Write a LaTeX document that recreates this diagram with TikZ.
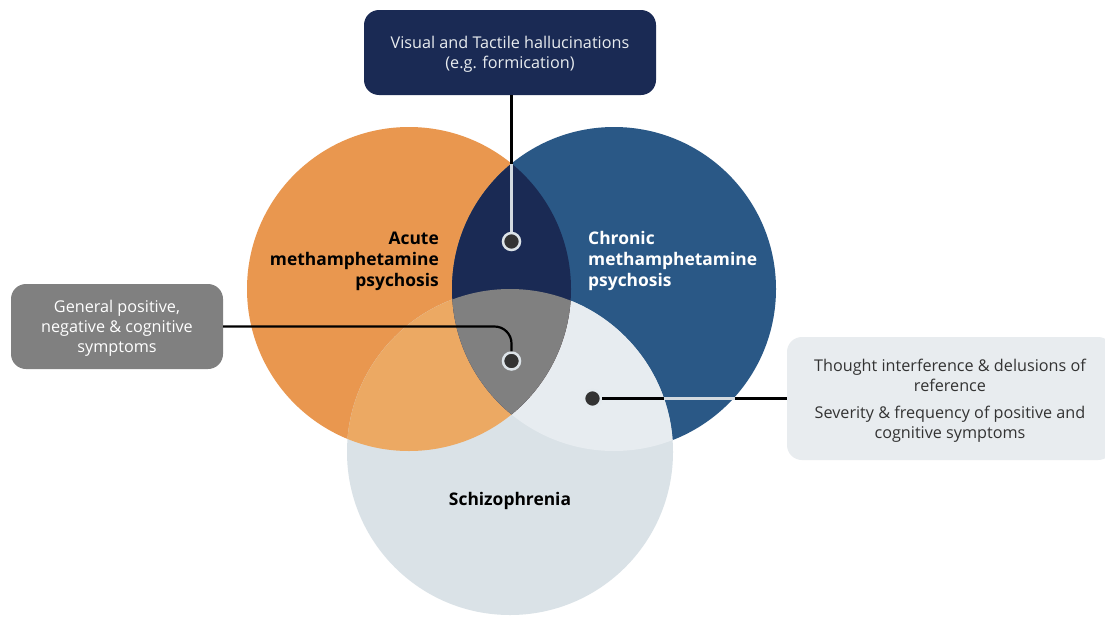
\documentclass[tikz,border=0pt]{standalone}
\usepackage{fontspec}
\setmainfont{Open Sans}
\definecolor{cOrange}{HTML}{E9974F}
\definecolor{cOrangeL}{HTML}{ECA963}
\definecolor{cBlue}{HTML}{2A5886}
\definecolor{cNavy}{HTML}{1A2A54}
\definecolor{cMid}{HTML}{808080}
\definecolor{cSchiz}{HTML}{DAE2E7}
\definecolor{cSchizL}{HTML}{E7ECF0}
\definecolor{cBoxR}{HTML}{E8ECEF}
\definecolor{cRing}{HTML}{DCE3E8}
\definecolor{cLight}{HTML}{D3DAE0}
\definecolor{cDot}{HTML}{333333}
\definecolor{cDark}{HTML}{333333}
\begin{document}
\begin{tikzpicture}[x=1pt,y=-1pt,
  infobox/.style={rounded corners=15pt, inner sep=0pt},
  boxtext/.style={inner sep=0pt, align=center, font=\fontsize{16.2}{20}\selectfont},
  setlabel/.style={font=\fontsize{17.4}{21}\selectfont\bfseries, inner sep=0pt},
  dotnode/.style={circle, fill=cDot, draw=cRing, line width=2.5pt, inner sep=0pt, minimum size=17pt},
  blackline/.style={draw=black, line width=2.2pt},
  lightline/.style={draw=cLight, line width=2.2pt}]
\clip (0,0) rectangle (1105,616);
\fill[white] (0,0) rectangle (1105,616);
% circles
\fill[cOrange] (409,289) circle[radius=162pt];
\fill[cBlue] (614,289) circle[radius=162pt];
\fill[cSchiz] (510,452) circle[radius=163pt];
\begin{scope}
  \clip (614,289) circle[radius=162pt];
  \fill[cSchizL] (510,452) circle[radius=163pt];
\end{scope}
\begin{scope}
  \clip (409,289) circle[radius=162pt];
  \fill[cOrangeL] (510,452) circle[radius=163pt];
  \fill[cNavy] (614,289) circle[radius=162pt];
  \clip (614,289) circle[radius=162pt];
  \fill[cMid] (510,452) circle[radius=163pt];
\end{scope}
% labels
\node[setlabel, anchor=east, align=right, text=black] (acute) at (439,261) {Acute\\methamphetamine\\psychosis};
\node[setlabel, anchor=west, align=left, text=white] (chronic) at (588,261) {Chronic\\methamphetamine\\psychosis};
\node[setlabel, text=black] (schiz) at (510,501) {Schizophrenia};
% boxes
\node[infobox, fill=cNavy, minimum width=292pt, minimum height=85pt] (topbox) at (510,52.5) {};
\node[boxtext, text=cBoxR] (toptext) at ([yshift=-2pt]topbox.center)
  {Visual and Tactile hallucinations\\(e.g. formication)};
\node[infobox, fill=cMid, minimum width=212pt, minimum height=85pt] (leftbox) at (117,326.5) {};
\node[boxtext, text=white] (lefttext) at ([yshift=-2pt]leftbox.center)
  {General positive,\\negative \& cognitive\\symptoms};
\node[infobox, fill=cBoxR, minimum width=326pt, minimum height=123pt] (rightbox) at (950,398.5) {};
\node[boxtext, text=cDark] (righttext) at ([yshift=-2pt]rightbox.center)
  {Thought interference \& delusions of\\reference\\[7pt]Severity \& frequency of positive and\\cognitive symptoms};
% dots
\node[dotnode] (dot1) at (511.5,241.5) {};
\node[dotnode] (dot2) at (511.5,361) {};
\node[dotnode, draw=cSchizL!85!cRing] (dot3) at (592.5,398.5) {};
% connectors
\coordinate (topcross) at (511.5,164);
\coordinate (rA) at (663.5,398.5);
\coordinate (rB) at (734.5,398.5);
\draw[blackline] (topbox.south -| topcross) -- (topcross);
\draw[lightline] (topcross) -- (dot1.north);
\draw[blackline, rounded corners=17pt] (leftbox.east) -| (dot2.north);
\draw[blackline] (dot3.east) -- (rA);
\draw[lightline] (rA) -- (rB);
\draw[blackline] (rB) -- (rightbox.west);
\end{tikzpicture}
\end{document}
